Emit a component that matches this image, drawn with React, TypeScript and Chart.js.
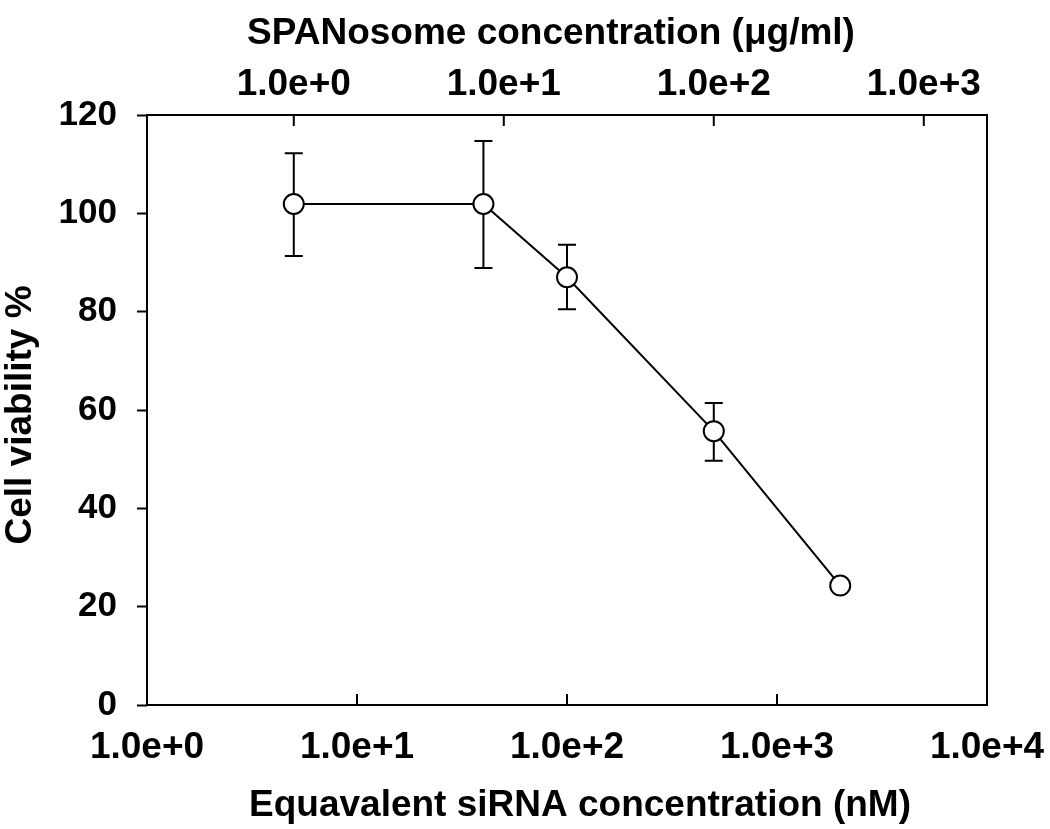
import React, { useEffect, useRef } from "react";
import { Chart, registerables } from "chart.js";

Chart.register(...registerables);

// Data
const siRNAConc = [5, 40, 100, 500, 2000]; // nM
const viability = [101.9, 101.9, 87.0, 55.7, 24.3]; // %
const errHigh: (number | null)[] = [112.2, 114.7, 93.6, 61.4, null];
const errLow: (number | null)[] = [91.3, 88.9, 80.5, 49.7, null];

const bottomTicks = [1, 10, 100, 1000, 10000];
const topTicks = [1, 10, 100, 1000];
const yTicks = [0, 20, 40, 60, 80, 100, 120];

const BOTTOM_MIN = 1;
const BOTTOM_MAX = 10000;
const TOP_MIN = 0.2; // µg/ml at left edge (1 µg/ml ~ 5 nM)
const TOP_MAX = 2000;

const xTitle = "Equavalent siRNA concentration (nM)";
const x2Title = "SPANosome concentration (\u03bcg/ml)";
const yTitle = "Cell viability %";

const FONT = "'Liberation Sans', Arial, sans-serif";

const fmt = (v: number) => Number(v).toExponential(1);

export default function App() {
  const ref = useRef<HTMLCanvasElement | null>(null);

  useEffect(() => {
    if (!ref.current) return;

    const errorBars = {
      id: "errorBars",
      beforeDatasetsDraw(chart: any) {
        const { ctx } = chart;
        const xs = chart.scales.x;
        const ys = chart.scales.y;
        ctx.save();
        ctx.strokeStyle = "#000";
        ctx.lineWidth = 2;
        for (let i = 0; i < siRNAConc.length; i++) {
          const hi = errHigh[i];
          const lo = errLow[i];
          if (hi == null || lo == null) continue;
          const px = xs.getPixelForValue(siRNAConc[i]);
          const pHi = ys.getPixelForValue(hi);
          const pLo = ys.getPixelForValue(lo);
          ctx.beginPath();
          ctx.moveTo(px, pHi);
          ctx.lineTo(px, pLo);
          ctx.moveTo(px - 9, pHi);
          ctx.lineTo(px + 9, pHi);
          ctx.moveTo(px - 9, pLo);
          ctx.lineTo(px + 9, pLo);
          ctx.stroke();
        }
        ctx.restore();
      },
    };

    const frame = {
      id: "frame",
      afterDraw(chart: any) {
        const { ctx, chartArea: a } = chart;
        const xs = chart.scales.x;
        const x2 = chart.scales.x2;
        ctx.save();
        ctx.strokeStyle = "#000";
        ctx.lineWidth = 2;
        ctx.strokeRect(a.left, a.top, a.right - a.left, a.bottom - a.top);
        ctx.beginPath();
        for (const t of bottomTicks) {
          const px = xs.getPixelForValue(t);
          if (px <= a.left + 2 || px >= a.right - 2) continue;
          ctx.moveTo(px, a.bottom);
          ctx.lineTo(px, a.bottom - 11);
        }
        for (const t of topTicks) {
          const px = x2.getPixelForValue(t);
          if (px <= a.left + 2 || px >= a.right - 2) continue;
          ctx.moveTo(px, a.top);
          ctx.lineTo(px, a.top + 11);
        }
        ctx.stroke();

        // Titles
        ctx.fillStyle = "#000";
        ctx.font = `bold 37px ${FONT}`;
        ctx.textAlign = "center";
        ctx.textBaseline = "alphabetic";
        ctx.fillText(x2Title, 551, 44);
        ctx.fillText(xTitle, 580, 816);
        ctx.translate(31, 415);
        ctx.rotate(-Math.PI / 2);
        ctx.fillText(yTitle, 0, 0);
        ctx.restore();
      },
    };

    const noSidePad = (s: any) => {
      s.paddingLeft = 0;
      s.paddingRight = 0;
    };

    const chart = new Chart(ref.current, {
      type: "line",
      data: {
        datasets: [
          {
            data: siRNAConc.map((x, i) => ({ x, y: viability[i] })),
            borderColor: "#000",
            borderWidth: 2,
            pointRadius: 10,
            pointHoverRadius: 10,
            pointBorderWidth: 2,
            pointBackgroundColor: "#fff",
            pointBorderColor: "#000",
            tension: 0,
            xAxisID: "x",
            yAxisID: "y",
          },
        ],
      },
      options: {
        responsive: false,
        animation: false,
        events: [],
        layout: { padding: { left: 0, right: 63, top: 0, bottom: 0 } },
        plugins: {
          legend: { display: false },
          tooltip: { enabled: false },
        },
        scales: {
          x: {
            type: "logarithmic",
            position: "bottom",
            min: BOTTOM_MIN,
            max: BOTTOM_MAX,
            afterBuildTicks: (s: any) => {
              s.ticks = bottomTicks.map((v) => ({ value: v }));
            },
            afterFit: (s: any) => {
              s.height = 124;
              noSidePad(s);
            },
            grid: { display: false, drawTicks: false },
            border: { display: false },
            ticks: {
              autoSkip: false,
              maxRotation: 0,
              padding: 21,
              color: "#000",
              font: { family: FONT, size: 37, weight: "bold" },
              callback: (v: any) => fmt(v),
            },
          },
          x2: {
            type: "logarithmic",
            position: "top",
            min: TOP_MIN,
            max: TOP_MAX,
            afterBuildTicks: (s: any) => {
              s.ticks = topTicks.map((v) => ({ value: v }));
            },
            afterFit: (s: any) => {
              s.height = 115;
              noSidePad(s);
            },
            grid: { display: false, drawTicks: false },
            border: { display: false },
            ticks: {
              autoSkip: false,
              maxRotation: 0,
              padding: 8,
              color: "#000",
              font: { family: FONT, size: 37, weight: "bold" },
              callback: (v: any) => fmt(v),
            },
          },
          y: {
            type: "linear",
            position: "left",
            min: 0,
            max: 120,
            afterBuildTicks: (s: any) => {
              s.ticks = yTicks.map((v) => ({ value: v }));
            },
            afterFit: (s: any) => {
              s.width = 147;
            },
            grid: {
              display: true,
              drawOnChartArea: false,
              drawTicks: true,
              tickLength: 10,
              tickWidth: 2,
              tickColor: "#000",
            },
            border: { display: false },
            ticks: {
              padding: 20,
              color: "#000",
              font: { family: FONT, size: 35, weight: "bold" },
            },
          },
        },
      },
      plugins: [errorBars, frame],
    } as any);

    return () => chart.destroy();
  }, []);

  return (
    <div style={{ position: "absolute", left: 0, top: 0, width: 1050, height: 829, background: "#fff" }}>
      <canvas ref={ref} width={1050} height={829} />
    </div>
  );
}
